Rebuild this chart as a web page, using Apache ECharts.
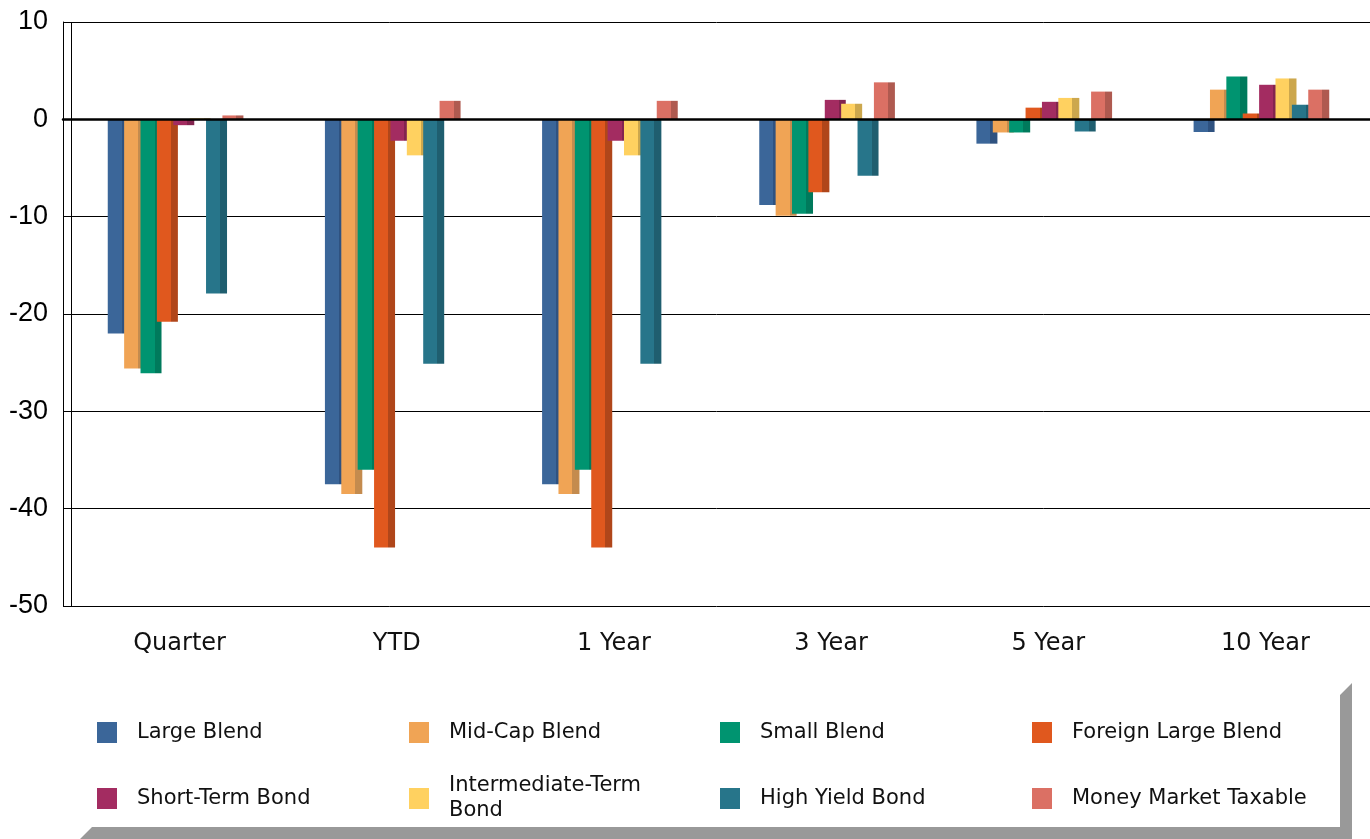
<!DOCTYPE html>
<html>
<head>
<meta charset="utf-8">
<title>Category Returns</title>
<script src="https://cdn.jsdelivr.net/npm/echarts@6/dist/echarts.min.js"></script>
<style>
  html, body { margin: 0; padding: 0; background: #fff; }
  #chart { width: 1370px; height: 839px; }
</style>
</head>
<body>
<div id="chart"></div>
<script>
// Periods on the category axis
const categories = ['Quarter', 'YTD', '1 Year', '3 Year', '5 Year', '10 Year'];

// Returns (%) per fund category, one value per period
const largeBlend        = [-22.0, -37.5, -37.5, -8.8, -2.5, -1.3];
const midCapBlend       = [-25.6, -38.5, -38.5, -9.9, -1.35, 3.05];
const smallBlend        = [-26.1, -36.0, -36.0, -9.7, -1.35, 4.4];
const foreignLargeBlend = [-20.8, -44.0, -44.0, -7.5, 1.2, 0.6];
const shortTermBond     = [-0.6, -2.2, -2.2, 2.0, 1.8, 3.55];
const intermediateBond  = [0.1, -3.7, -3.7, 1.6, 2.2, 4.2];
const highYieldBond     = [-17.9, -25.1, -25.1, -5.8, -1.25, 1.5];
const moneyMarket       = [0.4, 1.9, 1.9, 3.8, 2.85, 3.05];

// Value axis ticks
const yTicks = { min: -50, max: 10, interval: 10 };

const seriesNames = [
  'Large Blend', 'Mid-Cap Blend', 'Small Blend', 'Foreign Large Blend',
  'Short-Term Bond', 'Intermediate-Term Bond', 'High Yield Bond', 'Money Market Taxable'
];
const seriesData = [
  largeBlend, midCapBlend, smallBlend, foreignLargeBlend,
  shortTermBond, intermediateBond, highYieldBond, moneyMarket
];
// front face / shaded side face
const faceColors = ['#3B6699', '#F0A455', '#009470', '#E0581E', '#A32C61', '#FFD160', '#27758A', '#DB7064'];
const sideColors = ['#2F5280', '#C48B4E', '#007A5C', '#B0461A', '#83244F', '#CCA74D', '#1F5E6F', '#AF5A50'];

const chart = echarts.init(document.getElementById('chart'), null, { renderer: 'canvas' });

function faceFill(i) {
  // hard colour stops give each bar a flat front and a darker right side
  return new echarts.graphic.LinearGradient(0, 0, 1, 0, [
    { offset: 0, color: faceColors[i] },
    { offset: 0.667, color: faceColors[i] },
    { offset: 0.667, color: sideColors[i] },
    { offset: 1, color: sideColors[i] }
  ]);
}

const series = seriesNames.map((name, i) => ({
  name: name,
  type: 'bar',
  xAxisIndex: 1,
  yAxisIndex: 1,
  data: seriesData[i],
  barWidth: 21,
  barGap: '-22%',
  itemStyle: { color: faceFill(i) },
  emphasis: { disabled: true },
  animation: false
}));

// legend: four columns, two rows
const legendCols = [97, 409, 720, 1032];
const legendRows = [720, 786];
const legends = seriesNames.map((name, i) => {
  const twoLine = name === 'Intermediate-Term Bond';
  return {
    left: legendCols[i % 4],
    // a wrapped label pushes its item down by half a line
    top: legendRows[Math.floor(i / 4)] - (twoLine ? 12.5 : 0),
    padding: 0,
    orient: 'horizontal',
    icon: 'rect',
    itemWidth: 20,
    itemHeight: 21,
    selectedMode: false,
    data: [{ name: name, itemStyle: { color: faceColors[i] } }],
    formatter: n => n === 'Intermediate-Term Bond' ? 'Intermediate-Term\nBond' : n,
    textStyle: {
      fontFamily: 'DejaVu Sans',
      fontSize: 21,
      color: '#111',
      lineHeight: 25,
      padding: [0, 0, 0, 15]
    }
  };
});

const option = {
  backgroundColor: '#fff',
  animation: false,
  grid: [
    { left: 63, right: 0, top: 22, bottom: 233 },
    { left: 67, right: 0, top: 22, bottom: 233 }
  ],
  xAxis: [
    {
      gridIndex: 0,
      type: 'value',
      min: 0,
      max: 1,
      axisLine: { show: true, onZero: true, lineStyle: { color: '#000', width: 2.5 } },
      axisTick: { show: false },
      axisLabel: { show: false },
      splitLine: { show: false },
      z: 5
    },
    {
      gridIndex: 1,
      type: 'category',
      data: categories,
      axisLine: { show: false },
      axisTick: { show: false },
      axisLabel: {
        fontFamily: 'DejaVu Sans',
        fontSize: 24,
        color: '#111',
        margin: 26,
        padding: [0, 0, 0, 8]
      },
      splitLine: { show: false }
    }
  ],
  yAxis: [
    {
      gridIndex: 0,
      type: 'value',
      min: yTicks.min,
      max: yTicks.max,
      interval: yTicks.interval,
      axisLine: { show: true, lineStyle: { color: '#000', width: 1 } },
      axisTick: { show: false },
      axisLabel: {
        fontFamily: 'Liberation Sans',
        fontSize: 27,
        color: '#000',
        margin: 15
      },
      splitLine: { show: true, lineStyle: { color: '#000', width: 1 } }
    },
    {
      gridIndex: 1,
      type: 'value',
      min: yTicks.min,
      max: yTicks.max,
      interval: yTicks.interval,
      show: false
    }
  ],
  legend: legends,
  series: series,
  graphic: [
    // inner wall edge of the plot frame
    {
      type: 'line',
      shape: { x1: 71.5, y1: 22, x2: 71.5, y2: 606 },
      style: { stroke: '#000', lineWidth: 1 },
      z: 10
    },
    // drop shadow of the legend panel
    {
      type: 'polygon',
      shape: {
        points: [[80, 839], [92, 827], [1340, 827], [1340, 695], [1352, 683], [1352, 839]]
      },
      style: { fill: '#999999' },
      z: 0
    }
  ]
};

chart.setOption(option);
</script>
</body>
</html>
